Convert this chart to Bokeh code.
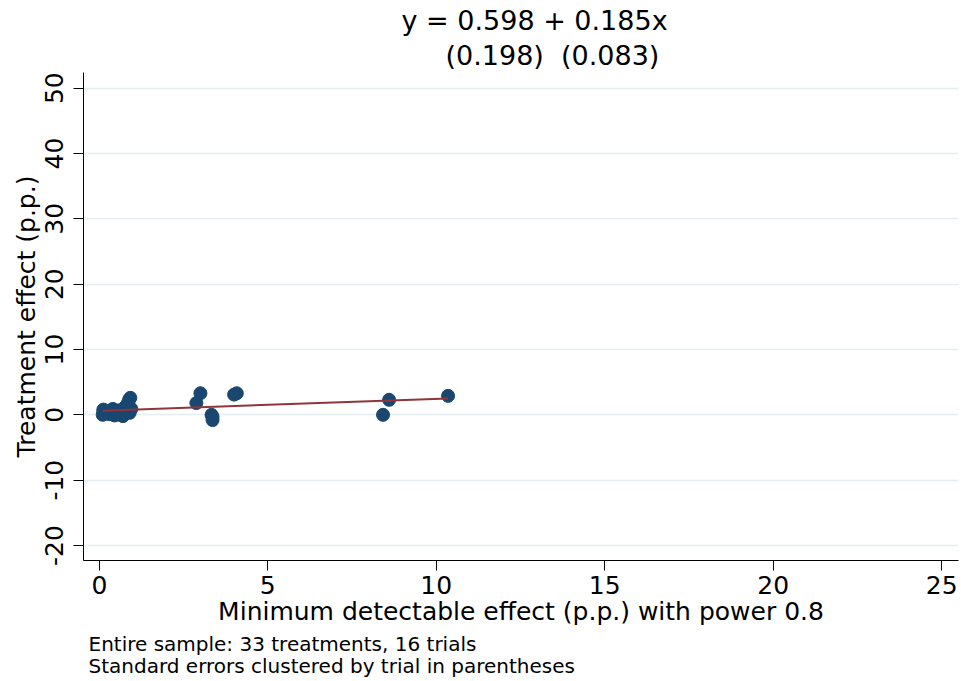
from bokeh.plotting import figure
from bokeh.models import Range1d, FixedTicker, Title
from bokeh.embed import file_html
from bokeh.resources import INLINE

# Minimum detectable effect (p.p.) with power 0.8
mde = [0.10, 0.12, 0.12, 0.15, 0.30, 0.40, 0.42, 0.45, 0.48, 0.55, 0.60,
       0.62, 0.68, 0.70, 0.72, 0.75, 0.78, 0.82, 0.85, 0.88, 0.90, 0.92,
       0.95, 2.88, 3.00, 3.33, 3.36, 3.36, 4.00, 4.08, 8.42, 8.60, 10.35]
# Treatment effect (p.p.)
effect = [0.0, 0.5, 0.8, 0.2, 0.1, 0.9, 0.3, -0.1, 0.6, 0.2, 0.7,
          0.0, 0.4, -0.2, 0.1, 0.8, 1.3, 0.5, 1.8, 2.3, 0.3, 2.6,
          0.9, 1.8, 3.3, 0.0, -0.3, -0.8, 3.1, 3.3, 0.0, 2.3, 2.9]

intercept = 0.598
slope = 0.185
title_line1 = "y = 0.598 + 0.185x"
title_line2 = "(0.198)\u00a0\u00a0(0.083)"
x_ticks = [0, 5, 10, 15, 20, 25]
y_ticks = [-20, -10, 0, 10, 20, 30, 40, 50]
y_tick_labels = ["-20", "-10", "0", "10", "20", "30", "40", "50"]
x_label = "Minimum detectable effect (p.p.) with power 0.8"
y_label = "Treatment effect (p.p.)"
note1 = "Entire sample: 33 treatments, 16 trials"
note2 = "Standard errors clustered by trial in parentheses"

FONT = "DejaVu Sans"

p = figure(width=961, height=681, output_backend="svg", toolbar_location=None,
           x_range=Range1d(-0.47, 25.5), y_range=Range1d(-22.3, 52.4),
           min_border_left=83, min_border_right=3, min_border_top=72,
           min_border_bottom=121, title=None)
p.outline_line_color = None
p.background_fill_color = "white"
p.border_fill_color = "white"

# titles (list order: from plot outward)
t2 = Title(text=title_line2, align="left", offset=362, text_font=FONT,
           text_font_size="27px", text_font_style="normal", text_color="black",
           standoff=4)
t1 = Title(text=title_line1, align="left", offset=318, text_font=FONT,
           text_font_size="27px", text_font_style="normal", text_color="black",
           standoff=0)
p.add_layout(t2, "above")
p.add_layout(t1, "above")

notes = Title(text=note1 + "\n" + note2, align="left", offset=5, text_font=FONT,
              text_font_size="20px", text_font_style="normal", text_color="black",
              text_line_height=0.95, standoff=2)
p.add_layout(notes, "below")

# axes
for ax in (p.xaxis[0], p.yaxis[0]):
    ax.axis_line_color = "black"
    ax.axis_line_width = 1
    ax.major_tick_line_color = "black"
    ax.major_tick_out = 10
    ax.major_tick_in = 0
    ax.minor_tick_line_color = None
    ax.major_label_text_font = FONT
    ax.major_label_text_font_size = "25px"
    ax.major_label_text_color = "black"
    ax.axis_label_text_font = FONT
    ax.axis_label_text_font_size = "25px"
    ax.axis_label_text_font_style = "normal"
    ax.axis_label_text_color = "black"

p.xaxis.ticker = FixedTicker(ticks=x_ticks)
p.yaxis.ticker = FixedTicker(ticks=y_ticks)
p.yaxis.major_label_overrides = dict(zip(y_ticks, y_tick_labels))
p.xaxis.axis_label = x_label
p.yaxis.axis_label = y_label
p.yaxis.major_label_orientation = "vertical"
p.xaxis.major_label_standoff = 5
p.yaxis.major_label_standoff = 10
p.xaxis.axis_label_standoff = 0
p.yaxis.axis_label_standoff = 2

p.xgrid.grid_line_color = None
p.ygrid.grid_line_color = "#e4edf0"
p.ygrid.grid_line_width = 1.5
p.ygrid.ticker = FixedTicker(ticks=y_ticks)

# points
p.scatter(mde, effect, size=13, marker="circle", fill_color="#1a476f",
          line_color="#1a476f")

# fitted line
x0, x1 = min(mde), max(mde)
p.line([x0, x1], [intercept + slope * x0, intercept + slope * x1],
       line_color="#90353b", line_width=2)

open("out.html", "w").write(file_html(p, INLINE))
